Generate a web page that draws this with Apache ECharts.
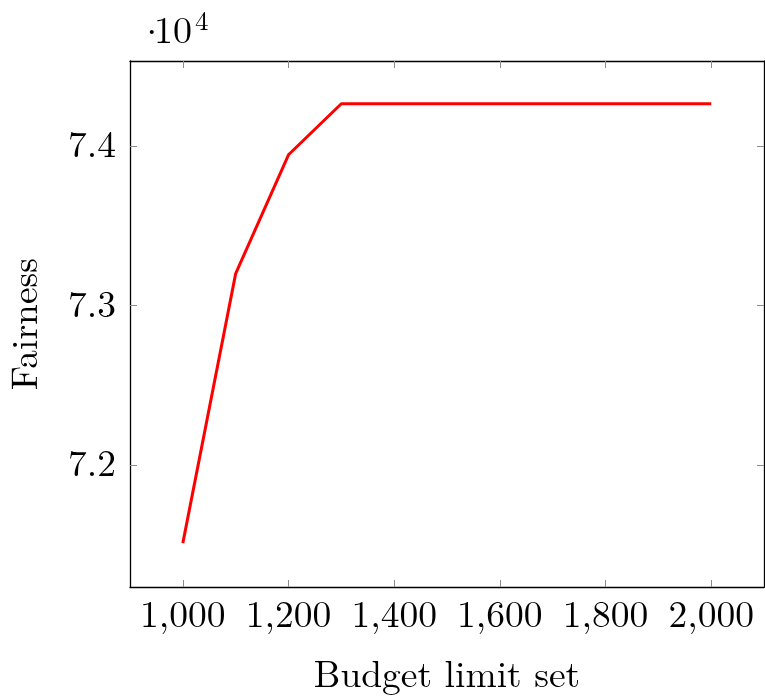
<!DOCTYPE html>
<html>
<head>
<meta charset="utf-8">
<script src="https://cdn.jsdelivr.net/npm/echarts@6/dist/echarts.min.js"></script>
<style>
html,body{margin:0;padding:0;background:#fff;}
#chart{width:765px;height:699px;}
</style>
</head>
<body>
<div id="chart"></div>
<script>
// Data (y values shown in units of 10^4)
const budgets = [1000, 1100, 1200, 1300, 1400, 1500, 1600, 1700, 1800, 1900, 2000];
const fairness = [7.151, 7.320, 7.3945, 7.4265, 7.4265, 7.4265, 7.4265, 7.4265, 7.4265, 7.4265, 7.4265];
const xTicks = [1000, 1200, 1400, 1600, 1800, 2000];
const yTicks = [7.2, 7.3, 7.4];
const xName = 'Budget limit set';
const yName = 'Fairness';

const FONT = '"Latin Modern Roman", "Liberation Serif", serif';
const FS = 37.5;
const chart = echarts.init(document.getElementById('chart'), null, {renderer: 'canvas'});

const tickStyle = {lineStyle: {color: '#8c8c8c', width: 1}};
const axisLineStyle = {show: true, onZero: false, lineStyle: {color: '#000', width: 1.3}};

const xMin = 900, xMax = 2100, yMin = 7.1235, yMax = 7.4533;

function fmtThousands(v) {
  return String(v).replace(/\B(?=(\d{3})+(?!\d))/g, ',');
}

chart.setOption({
  animation: false,
  grid: {left: 130, top: 61, width: 634, height: 526, containLabel: false, outerBoundsMode: 'none'},
  xAxis: [
    {
      type: 'value', position: 'bottom', min: xMin, max: xMax,
      name: xName, nameLocation: 'middle', nameGap: 70,
      nameTextStyle: {fontFamily: FONT, fontSize: FS, color: '#000'},
      axisLine: axisLineStyle,
      axisTick: {show: true, inside: true, length: 7, customValues: xTicks, ...tickStyle},
      axisLabel: {show: true, customValues: xTicks, fontFamily: FONT, fontSize: FS, color: '#000', margin: 10,
                  formatter: v => fmtThousands(v)},
      splitLine: {show: false}
    },
    {
      type: 'value', position: 'top', min: xMin, max: xMax,
      axisLine: axisLineStyle,
      axisTick: {show: true, inside: true, length: 7, customValues: xTicks, ...tickStyle},
      axisLabel: {show: false},
      splitLine: {show: false}
    }
  ],
  yAxis: [
    {
      type: 'value', position: 'left', min: yMin, max: yMax,
      name: yName, nameLocation: 'middle', nameGap: 85, nameRotate: 90,
      nameTextStyle: {fontFamily: FONT, fontSize: FS, color: '#000'},
      axisLine: axisLineStyle,
      axisTick: {show: true, inside: true, length: 7, customValues: yTicks, ...tickStyle},
      axisLabel: {show: true, customValues: yTicks, fontFamily: FONT, fontSize: FS, color: '#000', margin: 14,
                  formatter: v => v.toFixed(1)},
      splitLine: {show: false}
    },
    {
      type: 'value', position: 'right', min: yMin, max: yMax,
      axisLine: axisLineStyle,
      axisTick: {show: true, inside: true, length: 7, customValues: yTicks, ...tickStyle},
      axisLabel: {show: false},
      splitLine: {show: false}
    }
  ],
  graphic: [
    {type: 'text', left: 137, top: 14, style: {text: '·', fontFamily: FONT, fontSize: 38, fill: '#000'}},
    {type: 'text', left: 154, top: 12, style: {text: '10', fontFamily: FONT, fontSize: 38, fill: '#000'}},
    {type: 'text', left: 195, top: 8, style: {text: '4', fontFamily: FONT, fontSize: 27, fill: '#000'}}
  ],
  series: [{
    type: 'line', xAxisIndex: 0, yAxisIndex: 0,
    data: budgets.map((b, i) => [b, fairness[i]]),
    symbol: 'none', smooth: false,
    lineStyle: {color: '#ff0000', width: 3}
  }]
});
</script>
</body>
</html>
